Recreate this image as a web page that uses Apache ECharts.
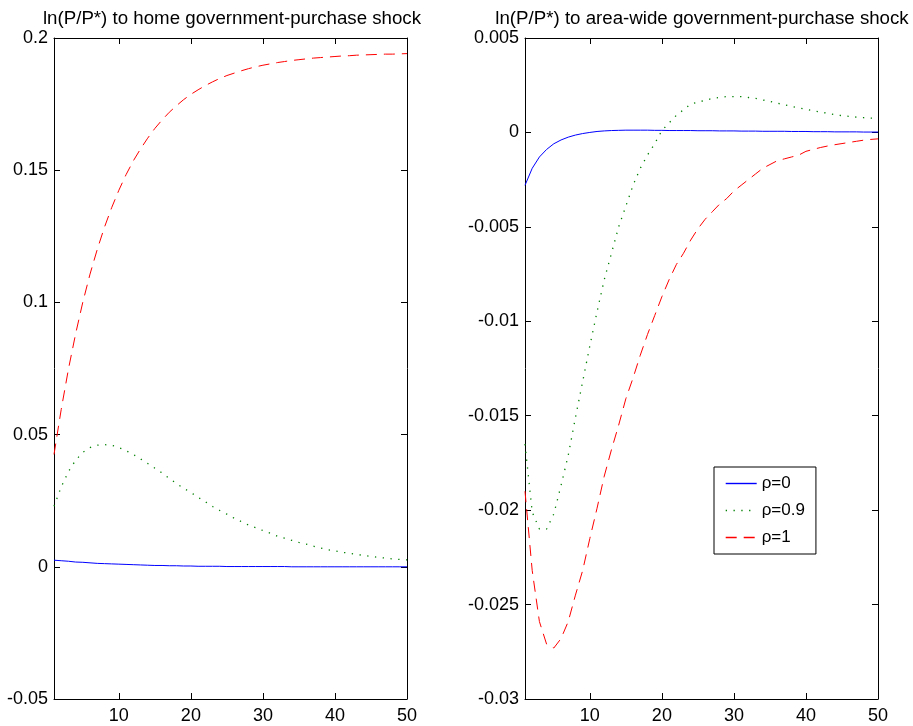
<!DOCTYPE html>
<html>
<head>
<meta charset="utf-8">
<script src="https://cdn.jsdelivr.net/npm/echarts@6/dist/echarts.min.js"></script>
<style>
  html, body { margin: 0; padding: 0; background: #fff; }
  #chart { width: 913px; height: 726px; }
</style>
</head>
<body>
<div id="chart"></div>
<script>
var periods = [1, 2, 3, 4, 5, 6, 7, 8, 9, 10, 11, 12, 13, 14, 15, 16, 17, 18, 19, 20,
  21, 22, 23, 24, 25, 26, 27, 28, 29, 30, 31, 32, 33, 34, 35, 36, 37, 38, 39, 40,
  41, 42, 43, 44, 45, 46, 47, 48, 49, 50];
var xTicks = [10, 20, 30, 40, 50];
var seriesNames = ["\u03c1=0", "\u03c1=0.9", "\u03c1=1"];
var titles = [
  "ln(P/P*) to home government-purchase shock",
  "ln(P/P*) to area-wide government-purchase shock"
];

// home shock
var homeRho0 = [0.0025, 0.0023, 0.0021, 0.0018, 0.0017, 0.0015, 0.0013, 0.0012, 0.0011, 0.0010,
  0.0009, 0.0008, 0.0007, 0.0006, 0.0005, 0.0005, 0.0004, 0.0004, 0.0003, 0.0003,
  0.0002, 0.0002, 0.0002, 0.0002, 0.0001, 0.0001, 0.0001, 0.0001, 0.0001, 0.0001,
  0.0001, 0.0001, 0.0001, 0.0, 0.0, 0.0, 0.0, 0.0, 0.0, 0.0,
  0.0, 0.0, 0.0, 0.0, 0.0, 0.0, 0.0, 0.0, 0.0, 0.0];
var homeRho09 = [0.0229, 0.0302, 0.0360, 0.0403, 0.0433, 0.0451, 0.0460, 0.0462, 0.0460, 0.0451,
  0.0439, 0.0425, 0.0408, 0.0391, 0.0373, 0.0355, 0.0334, 0.0315, 0.0297, 0.0281,
  0.0263, 0.0246, 0.0228, 0.0213, 0.0199, 0.0184, 0.0171, 0.0158, 0.0148, 0.0137,
  0.0127, 0.0116, 0.0108, 0.0100, 0.0092, 0.0086, 0.0078, 0.0071, 0.0065, 0.0060,
  0.0055, 0.0051, 0.0047, 0.0043, 0.0039, 0.0036, 0.0033, 0.0030, 0.0028, 0.0026];
var homeRho1 = [0.0425, 0.0595, 0.0747, 0.0881, 0.1001, 0.1107, 0.1200, 0.1284, 0.1358, 0.1424,
  0.1483, 0.1535, 0.1580, 0.1621, 0.1658, 0.1690, 0.1719, 0.1744, 0.1767, 0.1787,
  0.1804, 0.1820, 0.1834, 0.1847, 0.1858, 0.1867, 0.1876, 0.1884, 0.1891, 0.1897,
  0.1902, 0.1907, 0.1911, 0.1915, 0.1918, 0.1921, 0.1924, 0.1926, 0.1928, 0.1930,
  0.1932, 0.1933, 0.1935, 0.1936, 0.1937, 0.1938, 0.1939, 0.1939, 0.1940, 0.1941];

// area-wide shock
var areaRho0 = [-0.0028, -0.0019, -0.0013, -0.0009, -0.0006, -0.0004, -0.00025, -0.00014, -0.00006, 0.0,
  0.00005, 0.00008, 0.0001, 0.00011, 0.00012, 0.00012, 0.00012, 0.00012, 0.00011, 0.00011,
  0.0001, 0.0001, 0.0001, 0.0001, 0.00009, 0.00009, 0.00009, 0.00008, 0.00008, 0.00008,
  0.00007, 0.00007, 0.00007, 0.00006, 0.00006, 0.00006, 0.00006, 0.00005, 0.00005, 0.00005,
  0.00004, 0.00004, 0.00004, 0.00003, 0.00003, 0.00003, 0.00003, 0.00002, 0.00002, 0.00002];
var areaRho09 = [-0.0165, -0.0201, -0.0210, -0.0210, -0.0202, -0.0187, -0.0171, -0.0151, -0.0132, -0.0113,
  -0.0095, -0.0078, -0.0064, -0.0050, -0.0039, -0.0028, -0.0019, -0.0012, -0.0006, 0.0001,
  0.0005, 0.0009, 0.0012, 0.0015, 0.0016, 0.0017, 0.0018, 0.00185, 0.0019, 0.0019,
  0.0019, 0.00185, 0.0018, 0.00172, 0.00165, 0.00155, 0.00146, 0.00138, 0.0013, 0.00122,
  0.00115, 0.00108, 0.00101, 0.00094, 0.00089, 0.00085, 0.00081, 0.00078, 0.00076, 0.00074];
var areaRho1 = [-0.0190, -0.0232, -0.0259, -0.0271, -0.0273, -0.0268, -0.0259, -0.0245, -0.0232, -0.0215,
  -0.0199, -0.0182, -0.0168, -0.0155, -0.0141, -0.0130, -0.0118, -0.0107, -0.0097, -0.0087,
  -0.0078, -0.0070, -0.0064, -0.0057, -0.0051, -0.0046, -0.0042, -0.0038, -0.0035, -0.0031,
  -0.0028, -0.0025, -0.0022, -0.0019, -0.0017, -0.0015, -0.0014, -0.0013, -0.0012, -0.0010,
  -0.0009, -0.0008, -0.00072, -0.00065, -0.00059, -0.00053, -0.00047, -0.00041, -0.00037, -0.00034];

var chart = echarts.init(document.getElementById("chart"));

var font = "Liberation Sans, Arial, Helvetica, sans-serif";
var lineStyles = [
  { color: "#0000ff", width: 1, type: "solid" },
  { color: "#008000", width: 1.3, type: [1.3, 6.5] },
  { color: "#ff0000", width: 1, type: [11, 7] }
];

function pairs(ys) {
  return periods.map(function (x, i) { return [x, ys[i]]; });
}

function fmt(v) {
  return String(+v.toFixed(4));
}

function xAxisPair(gridIndex) {
  var base = {
    type: "value",
    gridIndex: gridIndex,
    min: 1,
    max: 50,
    splitLine: { show: false },
    axisLine: { show: true, onZero: false, lineStyle: { color: "#000", width: 1 } },
    axisTick: { show: true, inside: true, length: 6, customValues: xTicks, lineStyle: { color: "#000" } }
  };
  var bottom = Object.assign({}, base, {
    position: "bottom",
    axisLabel: { show: true, customValues: xTicks, margin: 8, fontSize: 18, color: "#000", fontFamily: font }
  });
  var top = Object.assign({}, base, {
    position: "top",
    axisLabel: { show: false }
  });
  return [bottom, top];
}

function yAxisPair(gridIndex, min, max, step) {
  var base = {
    type: "value",
    gridIndex: gridIndex,
    min: min,
    max: max,
    interval: step,
    splitLine: { show: false },
    axisLine: { show: true, onZero: false, lineStyle: { color: "#000", width: 1 } },
    axisTick: { show: true, inside: true, length: 6, lineStyle: { color: "#000" } }
  };
  var left = Object.assign({}, base, {
    position: "left",
    axisLabel: { show: true, margin: 6, fontSize: 18, color: "#000", fontFamily: font, formatter: fmt }
  });
  var right = Object.assign({}, base, {
    position: "right",
    axisLabel: { show: false }
  });
  return [left, right];
}

function makeSeries(gridIndex, list) {
  return list.map(function (ys, i) {
    return {
      name: seriesNames[i],
      type: "line",
      xAxisIndex: gridIndex * 2,
      yAxisIndex: gridIndex * 2,
      data: pairs(ys),
      symbol: "none",
      silent: true,
      animation: false,
      lineStyle: lineStyles[i],
      itemStyle: { color: lineStyles[i].color }
    };
  });
}

var option = {
  backgroundColor: "#fff",
  textStyle: { fontFamily: font },
  title: [
    {
      text: titles[0], left: 227, top: 4, textAlign: "center",
      textStyle: { fontSize: 18.7, fontWeight: "normal", color: "#000", fontFamily: font }
    },
    {
      text: titles[1], left: 697, top: 4, textAlign: "center",
      textStyle: { fontSize: 18.7, fontWeight: "normal", color: "#000", fontFamily: font }
    }
  ],
  legend: {
    data: seriesNames,
    orient: "vertical",
    left: 714,
    top: 467,
    padding: [8, 11, 8, 11],
    itemWidth: 31,
    itemHeight: 14,
    itemGap: 10,
    itemStyle: { opacity: 0 },
    lineStyle: { width: 1.4 },
    backgroundColor: "#fff",
    borderColor: "#000",
    borderWidth: 1,
    selectedMode: false,
    textStyle: { fontSize: 17, color: "#000", fontFamily: font }
  },
  grid: [
    { left: 54, top: 38, width: 353, height: 661 },
    { left: 525, top: 38, width: 353, height: 661 }
  ],
  xAxis: xAxisPair(0).concat(xAxisPair(1)),
  yAxis: yAxisPair(0, -0.05, 0.2, 0.05).concat(yAxisPair(1, -0.03, 0.005, 0.005)),
  series: makeSeries(0, [homeRho0, homeRho09, homeRho1])
    .concat(makeSeries(1, [areaRho0, areaRho09, areaRho1]))
};

chart.setOption(option);
</script>
</body>
</html>
